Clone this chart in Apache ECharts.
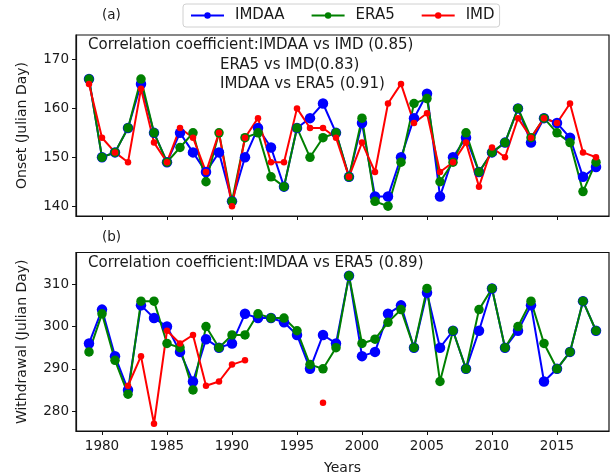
<!DOCTYPE html>
<html>
<head>
<meta charset="utf-8">
<script src="https://cdn.jsdelivr.net/npm/echarts@6/dist/echarts.min.js"></script>
<style>
  html, body { margin: 0; padding: 0; background: #fff; }
  #chart { width: 611px; height: 476px; }
</style>
</head>
<body>
<div id="chart"></div>
<script>
// Monsoon onset / withdrawal dates (Julian day), 1979-2018
const years = [];
for (let y = 1979; y <= 2018; y++) years.push(y);

const onsetIMDAA = [166,150,151,156,165,155,149,155,151,147,151,141,150,156,152,144,156,158,161,155,146,157,142,142,150,158,163,142,150,154,147,151,153,160,153,158,157,154,146,148];
const onsetERA5  = [166,150,151,156,166,155,149,152,155,145,155,141,154,155,146,144,156,150,154,155,146,158,141,140,149,161,162,145,149,155,147,151,153,160,154,158,155,153,143,149];
const onsetIMD   = [165,154,151,149,164,153,149,156,154,147,155,140,154,158,149,149,160,156,156,154,146,153,147,161,165,157,159,147,149,153,144,152,150,158,154,158,157,161,151,150];

const withdrawIMDAA = [296,304,293,285,305,302,300,294,287,297,295,296,303,302,302,301,298,290,298,296,312,293,294,303,305,295,308,295,299,290,299,309,295,299,305,287,290,294,306,299];
const withdrawERA5  = [294,303,292,284,306,306,296,295,285,300,295,298,298,303,302,302,299,291,290,295,312,296,297,301,304,295,309,287,299,290,304,309,295,300,306,296,290,294,306,299];
const withdrawIMD   = [null,null,null,286,293,277,299,296,298,286,287,291,292,null,null,null,null,null,282,null,null,null,null,null,null,null,null,null,null,null,null,null,null,null,null,null,null,null,null,null];

const yearTicks = [1980,1985,1990,1995,2000,2005,2010,2015];
const onsetTicks = [140,150,160,170];
const withdrawTicks = [280,290,300,310];

const seriesNames = ['IMDAA','ERA5','IMD'];
const seriesColors = ['#0000ff','#008000','#ff0000'];

const pairs = vals => years.map((y, i) => [y, vals[i]]);

const FONT = 'DejaVu Sans';
const TXT = '#1a1a1a';
const NOTE_FONT = '15px "DejaVu Sans"';

function xAxisFor(gridIndex, showLabels) {
  return {
    type: 'value', gridIndex, min: 1978, max: 2019,
    axisLine: { show: true, onZero: false, lineStyle: { color: '#111', width: 1.2 } },
    axisTick: { show: true, length: 4, customValues: yearTicks, lineStyle: { color: '#111', width: 1 } },
    axisLabel: {
      show: showLabels, customValues: yearTicks, formatter: v => String(v),
      color: TXT, fontFamily: FONT, fontSize: 13.5, margin: 8
    },
    splitLine: { show: false },
    name: showLabels ? 'Years' : '',
    nameLocation: 'middle', nameGap: 30,
    nameTextStyle: { color: TXT, fontFamily: FONT, fontSize: 14 }
  };
}

function yAxisFor(gridIndex, min, max, ticks, title) {
  return {
    type: 'value', gridIndex, min, max,
    axisLine: { show: true, lineStyle: { color: '#111', width: 1.2 } },
    axisTick: { show: true, length: 4, customValues: ticks, lineStyle: { color: '#111', width: 1 } },
    axisLabel: { customValues: ticks, formatter: v => String(v), color: TXT, fontFamily: FONT, fontSize: 13.5, margin: 7 },
    splitLine: { show: false },
    name: title, nameLocation: 'middle', nameGap: 47, nameRotate: 90,
    nameTextStyle: { color: TXT, fontFamily: FONT, fontSize: 14 }
  };
}

const symbolSizes = [10.5, 9.5, 6.5];

function lineSeries(idx, gridIdx, vals) {
  return {
    name: seriesNames[idx], type: 'line',
    xAxisIndex: gridIdx, yAxisIndex: gridIdx,
    data: pairs(vals),
    symbol: 'circle', symbolSize: symbolSizes[idx], showAllSymbol: true,
    connectNulls: false,
    lineStyle: { color: seriesColors[idx], width: 2 },
    itemStyle: { color: seriesColors[idx] },
    emphasis: { disabled: true },
    animation: false
  };
}

const chart = echarts.init(document.getElementById('chart'), null, { renderer: 'canvas' });

chart.setOption({
  animation: false,
  backgroundColor: '#fff',
  textStyle: { fontFamily: FONT },
  grid: [
    { left: 76, top: 35, width: 533, height: 181, show: true, borderColor: '#111', borderWidth: 1.2, backgroundColor: 'transparent' },
    { left: 76, top: 252.5, width: 533, height: 180, show: true, borderColor: '#111', borderWidth: 1.2, backgroundColor: 'transparent' }
  ],
  legend: {
    data: seriesNames,
    left: 183, top: 4,
    orient: 'horizontal',
    itemWidth: 33, itemHeight: 8, itemGap: 26,
    padding: [4, 5, 4, 7],
    borderColor: '#d0d0d0', borderWidth: 1, borderRadius: 3,
    textStyle: { color: TXT, fontFamily: FONT, fontSize: 15, padding: [0, 0, 0, 6] }
  },
  xAxis: [xAxisFor(0, false), xAxisFor(1, true)],
  yAxis: [
    yAxisFor(0, 138, 175, onsetTicks, 'Onset (Julian Day)'),
    yAxisFor(1, 275.3, 317.5, withdrawTicks, 'Withdrawal (Julian Day)')
  ],
  series: [
    lineSeries(0, 0, onsetIMDAA),
    lineSeries(1, 0, onsetERA5),
    lineSeries(2, 0, onsetIMD),
    lineSeries(0, 1, withdrawIMDAA),
    lineSeries(1, 1, withdrawERA5),
    lineSeries(2, 1, withdrawIMD)
  ],
  graphic: [
    { type: 'text', left: 102, top: 8, style: { text: '(a)', fill: TXT, font: '13.5px "DejaVu Sans"' } },
    { type: 'text', left: 102, top: 230, style: { text: '(b)', fill: TXT, font: '13.5px "DejaVu Sans"' } },
    { type: 'text', left: 88, top: 38, style: { text: 'Correlation coefficient:IMDAA vs IMD (0.85)', fill: TXT, font: NOTE_FONT } },
    { type: 'text', left: 220, top: 57.5, style: { text: 'ERA5 vs IMD(0.83)', fill: TXT, font: NOTE_FONT } },
    { type: 'text', left: 220, top: 77, style: { text: 'IMDAA vs ERA5 (0.91)', fill: TXT, font: NOTE_FONT } },
    { type: 'text', left: 88, top: 255.5, style: { text: 'Correlation coefficient:IMDAA vs ERA5 (0.89)', fill: TXT, font: NOTE_FONT } }
  ]
});
</script>
</body>
</html>
